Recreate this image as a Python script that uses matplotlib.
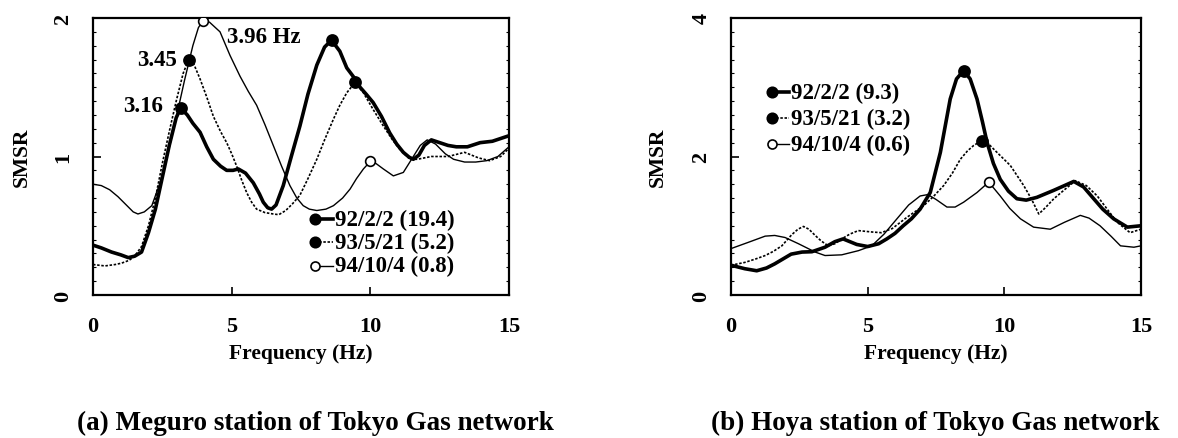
import matplotlib
matplotlib.use('Agg')
import matplotlib.pyplot as plt
from matplotlib.ticker import MultipleLocator

plt.rcParams['font.family'] = ['Liberation Serif', 'DejaVu Serif']
plt.rcParams['font.weight'] = 'bold'
plt.rcParams['axes.labelweight'] = 'bold'

# ---- (a) Meguro station: SMSR vs frequency (Hz) ----
meg_f_92 = [0, 0.3, 0.67, 1.0, 1.27, 1.5, 1.75, 2.0, 2.25, 2.5, 2.75, 3.0, 3.16, 3.4, 3.6, 3.86,
            4.1, 4.34, 4.6, 4.82, 5.05, 5.24, 5.5, 5.78, 6.0, 6.14, 6.3, 6.44, 6.6, 6.86, 7.15,
            7.46, 7.75, 8.07, 8.35, 8.6, 8.9, 9.15, 9.45, 9.63, 9.85, 10.1, 10.4, 10.7, 10.95,
            11.19, 11.4, 11.55, 11.75, 11.95, 12.2, 12.5, 12.8, 13.1, 13.5, 13.96, 14.4, 15.0]
meg_v_92 = [0.36, 0.34, 0.31, 0.29, 0.27, 0.28, 0.31, 0.45, 0.62, 0.85, 1.08, 1.28, 1.35, 1.30, 1.24, 1.175,
            1.07, 0.98, 0.93, 0.90, 0.90, 0.91, 0.88, 0.81, 0.73, 0.67, 0.63, 0.62, 0.65, 0.79, 1.0,
            1.22, 1.45, 1.66, 1.79, 1.84, 1.76, 1.64, 1.56, 1.50, 1.45, 1.39, 1.29, 1.17, 1.09,
            1.03, 0.995, 0.98, 1.01, 1.08, 1.12, 1.10, 1.08, 1.07, 1.07, 1.10, 1.11, 1.15]

meg_f_93 = [0, 0.43, 0.8, 1.03, 1.3, 1.5, 1.75, 2.0, 2.25, 2.5, 2.75, 3.0, 3.25, 3.45, 3.65, 3.86,
            4.1, 4.34, 4.6, 4.82, 5.0, 5.18, 5.36, 5.54, 5.72, 5.9, 6.2, 6.5, 6.7, 6.95, 7.2, 7.46,
            7.75, 8.07, 8.35, 8.67, 8.9, 9.15, 9.45, 9.75, 10.1, 10.47, 10.8, 11.07, 11.43, 11.7,
            12.2, 12.8, 13.4, 13.9, 14.3, 14.7, 15.0]
meg_v_93 = [0.22, 0.21, 0.22, 0.23, 0.25, 0.28, 0.35, 0.50, 0.70, 0.95, 1.18, 1.40, 1.60, 1.70, 1.66, 1.56,
            1.43, 1.29, 1.18, 1.10, 1.02, 0.93, 0.83, 0.74, 0.67, 0.62, 0.595, 0.585, 0.58, 0.61, 0.66, 0.72,
            0.84, 0.98, 1.12, 1.27, 1.37, 1.46, 1.535, 1.46, 1.34, 1.22, 1.12, 1.05, 0.98, 0.98,
            1.0, 1.0, 1.03, 0.99, 0.97, 1.0, 1.06]

meg_f_94 = [0, 0.3, 0.6, 0.9, 1.2, 1.45, 1.62, 1.85, 2.12, 2.4, 2.7, 3.0, 3.3, 3.6, 3.8, 3.96, 4.2,
            4.58, 4.94, 5.3, 5.6, 5.9, 6.2, 6.5, 6.8, 7.1, 7.35, 7.58, 7.8, 8.07, 8.4, 8.67, 9.0,
            9.27, 9.5, 9.75, 10.0, 10.2, 10.47, 10.83, 11.19, 11.55, 11.8, 12.05, 12.35, 12.7,
            13.0, 13.4, 13.8, 14.2, 14.6, 15.0]
meg_v_94 = [0.80, 0.79, 0.76, 0.71, 0.65, 0.60, 0.585, 0.60, 0.645, 0.80, 1.02, 1.28, 1.55, 1.80, 1.93, 1.98, 1.97,
            1.90, 1.73, 1.58, 1.47, 1.37, 1.23, 1.08, 0.93, 0.79, 0.70, 0.645, 0.62, 0.61, 0.62, 0.645, 0.70,
            0.765, 0.84, 0.91, 0.965, 0.95, 0.91, 0.86, 0.885, 1.0, 1.08, 1.12, 1.09, 1.02,
            0.98, 0.96, 0.96, 0.97, 1.0, 1.07]

meg_peaks = [[3.16, 8.6], [3.45, 9.45], [3.96, 10.0]]
meg_mag = ['19.4', '5.2', '0.8']

# ---- (b) Hoya station ----
hoya_f_92 = [0, 0.5, 0.94, 1.3, 1.6, 2.2, 2.6, 2.96, 3.44, 3.8, 4.1, 4.6, 5.0, 5.4, 5.7, 6.0, 6.3,
             6.6, 6.92, 7.29, 7.66, 8.02, 8.25, 8.51, 8.75, 9.0, 9.2, 9.37, 9.6, 9.85, 10.15,
             10.46, 10.8, 11.19, 11.8, 12.2, 12.54, 12.9, 13.27, 13.6, 14.0, 14.5, 15.0]
hoya_v_92 = [0.43, 0.38, 0.35, 0.39, 0.45, 0.59, 0.62, 0.625, 0.69, 0.77, 0.81, 0.73, 0.70, 0.74, 0.81, 0.89, 1.0,
             1.10, 1.24, 1.48, 2.06, 2.83, 3.12, 3.24, 3.12, 2.83, 2.50, 2.2, 1.90, 1.67, 1.50,
             1.39, 1.37, 1.41, 1.51, 1.58, 1.64, 1.56, 1.39, 1.24, 1.10, 0.98, 1.0]

hoya_f_93 = [0, 0.5, 0.9, 1.25, 1.55, 1.86, 2.22, 2.45, 2.65, 2.85, 3.08, 3.3, 3.56, 3.8, 4.05, 4.35,
             4.66, 5.15, 5.5, 5.9, 6.43, 7.05, 7.4, 7.78, 8.1, 8.39, 8.65, 8.88, 9.18, 9.45, 9.73,
             10.22, 10.71, 11.0, 11.26, 11.5, 11.81, 12.2, 12.6, 13.0, 13.4, 13.8, 14.13, 14.6, 15.0]
hoya_v_93 = [0.43, 0.47, 0.52, 0.57, 0.63, 0.71, 0.87, 0.95, 0.99, 0.95, 0.86, 0.78, 0.71, 0.74, 0.81, 0.88,
             0.93, 0.91, 0.90, 0.96, 1.12, 1.29, 1.42, 1.58, 1.76, 1.96, 2.08, 2.16, 2.23, 2.17, 2.06,
             1.87, 1.58, 1.38, 1.17, 1.26, 1.39, 1.52, 1.65, 1.58, 1.43, 1.22, 1.05, 0.90, 0.95]

hoya_f_94 = [0, 0.63, 1.25, 1.6, 1.98, 2.47, 3.08, 3.44, 4.05, 4.66, 5.15, 5.6, 6.07, 6.5, 6.92, 7.2,
             7.5, 7.9, 8.2, 8.51, 9.0, 9.43, 9.85, 10.2, 10.59, 11.07, 11.68, 12.2, 12.78, 13.1,
             13.5, 13.9, 14.25, 14.74, 15.0]
hoya_v_94 = [0.67, 0.76, 0.85, 0.86, 0.83, 0.74, 0.62, 0.57, 0.58, 0.64, 0.71, 0.88, 1.10, 1.30, 1.43, 1.45,
             1.38, 1.27, 1.27, 1.34, 1.48, 1.63, 1.43, 1.25, 1.10, 0.98, 0.95, 1.05, 1.15, 1.11,
             1.0, 0.85, 0.71, 0.69, 0.71]

hoya_peaks = [[8.51], [9.18], [9.43]]
hoya_mag = ['9.3', '3.2', '0.6']

events = ['92/2/2', '93/5/21', '94/10/4']

# line / marker style per event: thick solid, dotted, thin solid
line_kw = [dict(lw=2.6, ls='-'), dict(lw=1.2, ls=(0, (1.5, 1.0))), dict(lw=1.0, ls='-')]
mfc = ['black', 'black', 'white']
msize = [8, 8, 7]


def draw_panel(ax, curves, peaks, mags, ymax, ystep, yminor, leg_x, leg_y, leg_dy):
    for i, (f, v) in enumerate(curves):
        idx = [f.index(p) for p in peaks[i]]
        ax.plot(f, v, color='black', **line_kw[i], zorder=3)
        ax.plot([f[k] for k in idx], [v[k] for k in idx], 'o', ms=msize[i],
                mfc=mfc[i], mec='black', mew=1.2, zorder=4)

    # hand-made legend: marker at the left end of a short line
    for i in range(3):
        y = leg_y - i * leg_dy
        ax.plot([leg_x, leg_x + 0.042], [y, y], color='black', transform=ax.transAxes,
                lw=line_kw[i]['lw'], ls=line_kw[i]['ls'])
        ax.plot([leg_x], [y], 'o', ms=msize[i] - 0.5, mfc=mfc[i], mec='black', mew=1.2,
                transform=ax.transAxes)
        ax.text(leg_x + 0.047, y, f'{events[i]} ({mags[i]})', transform=ax.transAxes,
                ha='left', va='center', fontsize=16.5)

    ax.set_xlim(0, 15)
    ax.set_ylim(0, ymax)
    ax.set_xticks([0, 5, 10, 15])
    ax.set_yticks([0, ystep, 2 * ystep])
    ax.yaxis.set_minor_locator(MultipleLocator(yminor))
    ax.tick_params(direction='in', length=6, width=1.2, labelsize=16)
    ax.tick_params(axis='x', pad=15)
    ax.tick_params(axis='y', pad=14)
    ax.tick_params(which='minor', axis='y', direction='in', length=2.5, width=0.8,
                   left=True, right=True)
    for lbl in ax.get_yticklabels():
        lbl.set_rotation(90)
        lbl.set_va('center')
    for sp in ax.spines.values():
        sp.set_linewidth(1.6)

    ax.set_xlabel('Frequency (Hz)', fontsize=15.5, fontweight='bold', va='center')
    ax.xaxis.set_label_coords(0.5, -0.209)
    ax.set_ylabel('SMSR', fontsize=15.5, fontweight='bold', va='center')


fig = plt.figure(figsize=(11.78, 4.39), dpi=100)
ax_a = fig.add_axes([93 / 1178, 1 - 296 / 439, 416 / 1178, 277 / 439])
ax_b = fig.add_axes([731 / 1178, 1 - 296 / 439, 410 / 1178, 277 / 439])

draw_panel(ax_a, [(meg_f_92, meg_v_92), (meg_f_93, meg_v_93), (meg_f_94, meg_v_94)],
           meg_peaks, meg_mag, 2, 1, 0.1, 0.534, 0.274, 0.084)
ax_a.yaxis.set_label_coords(-0.171, 0.5)

draw_panel(ax_b, [(hoya_f_92, hoya_v_92), (hoya_f_93, hoya_v_93), (hoya_f_94, hoya_v_94)],
           hoya_peaks, hoya_mag, 4, 2, 0.2, 0.099, 0.732, 0.094)
ax_b.yaxis.set_label_coords(-0.178, 0.5)

# peak frequency annotations on panel (a)
ax_a.text(4.83, 1.87, '3.96 Hz', fontsize=16.5, ha='left', va='center')
ax_a.text(3.03, 1.70, '3.45', fontsize=16.5, ha='right', va='center')
ax_a.text(2.52, 1.365, '3.16', fontsize=16.5, ha='right', va='center')

fig.text(77 / 1178, 0.036, '(a) Meguro station of Tokyo Gas network', fontsize=19.5,
         ha='left', va='center')
fig.text(711 / 1178, 0.036, '(b) Hoya station of Tokyo Gas network', fontsize=19.5,
         ha='left', va='center')

fig.savefig('out.png', dpi=100)
